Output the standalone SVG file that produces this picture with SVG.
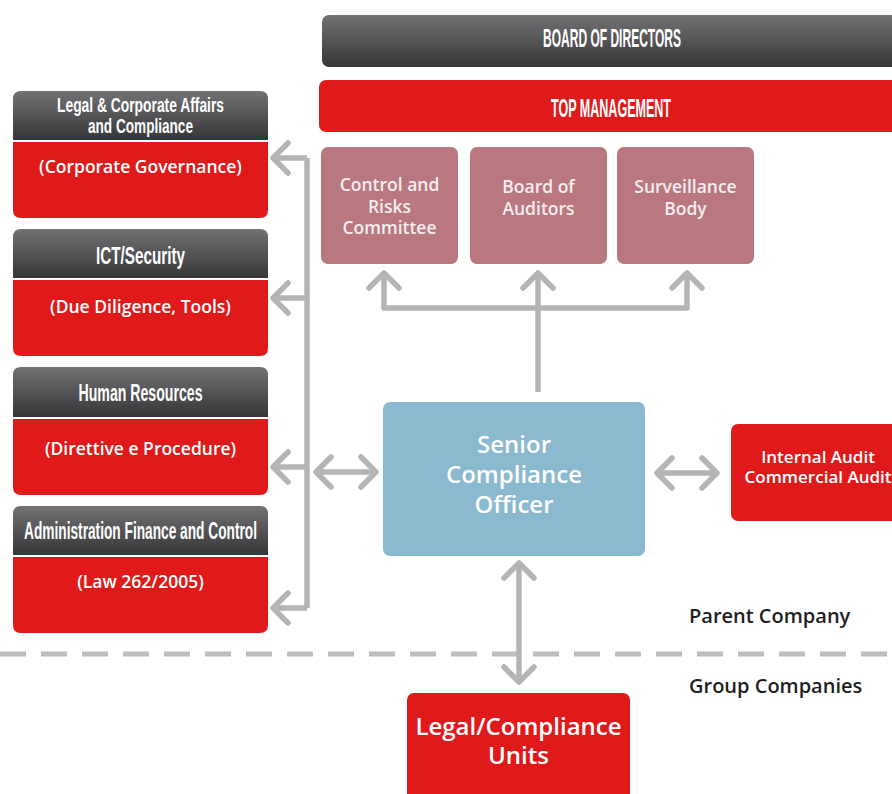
<svg xmlns="http://www.w3.org/2000/svg" width="892" height="794" viewBox="0 0 892 794">
<defs>
<linearGradient id="gh" x1="0" y1="0" x2="0" y2="1">
<stop offset="0" stop-color="#727274"/>
<stop offset="1" stop-color="#363638"/>
</linearGradient>
<marker id="chev" markerUnits="userSpaceOnUse" markerWidth="40" markerHeight="40" viewBox="-20 -20 40 40" refX="0" refY="0" orient="auto-start-reverse" overflow="visible">
<path d="M-15,-15 L0,0 L-15,15" fill="none" stroke="#b4b4b6" stroke-width="5.5" stroke-linecap="round" stroke-linejoin="round"/>
</marker>
</defs>
<style>
.red{fill:#e01a1a}
.pink{fill:#b97880}
.hdr{fill:url(#gh)}
.ht{font-family:"Liberation Sans",Arial,sans-serif;font-weight:bold;fill:#fff;text-anchor:middle}
.rt{font-family:"Open Sans","Noto Sans",sans-serif;font-weight:600;font-size:17.5px;fill:#fff;text-anchor:middle}
.at{font-family:"Open Sans","Noto Sans",sans-serif;font-weight:600;font-size:17px;fill:#fff;text-anchor:middle}
.pt{font-family:"Open Sans","Noto Sans",sans-serif;font-weight:600;font-size:17.5px;fill:#f6eef0;text-anchor:middle}
.bt{font-family:"Open Sans","Noto Sans",sans-serif;font-weight:600;font-size:24px;fill:#fff;text-anchor:middle}
.lbl{font-family:"Open Sans","Noto Sans",sans-serif;font-weight:600;font-size:20px;fill:#1e1e1e}
.arr{fill:none;stroke:#b4b4b6;stroke-width:5.5;stroke-linecap:butt;stroke-linejoin:round}
</style>

<g id="board">
<rect x="322" y="15" width="600" height="52" rx="7" class="hdr"/>
<text x="612" y="47" class="ht" font-size="26" textLength="138" lengthAdjust="spacingAndGlyphs">BOARD OF DIRECTORS</text>
</g>
<g id="topmgmt">
<rect x="319" y="80" width="600" height="52" rx="7" class="red"/>
<text x="611" y="117" class="ht" font-size="26" textLength="120" lengthAdjust="spacingAndGlyphs">TOP MANAGEMENT</text>
</g>

<g id="crc">
<rect x="321" y="147" width="137" height="117" rx="7" class="pink"/>
<text x="389.5" y="191" class="pt">Control and</text>
<text x="389.5" y="213" class="pt">Risks</text>
<text x="389.5" y="234" class="pt">Committee</text>
</g>
<g id="boa">
<rect x="470" y="147" width="137" height="117" rx="7" class="pink"/>
<text x="538.5" y="193" class="pt">Board of</text>
<text x="538.5" y="215" class="pt">Auditors</text>
</g>
<g id="sb">
<rect x="617" y="147" width="137" height="117" rx="7" class="pink"/>
<text x="685.5" y="193" class="pt">Surveillance</text>
<text x="685.5" y="215" class="pt">Body</text>
</g>

<g id="legal">
<path class="hdr" d="M13,140 V99 Q13,91 21,91 H260 Q268,91 268,99 V140 Z"/>
<path class="red" d="M13,142 H268 V210 Q268,218 260,218 H21 Q13,218 13,210 Z"/>
<text x="140.5" y="112" class="ht" font-size="20" textLength="167" lengthAdjust="spacingAndGlyphs">Legal &amp; Corporate Affairs</text>
<text x="140.5" y="133" class="ht" font-size="20" textLength="105" lengthAdjust="spacingAndGlyphs">and Compliance</text>
<text x="140.5" y="173" class="rt">(Corporate Governance)</text>
</g>
<g id="ict">
<path class="hdr" d="M13,278 V237 Q13,229 21,229 H260 Q268,229 268,237 V278 Z"/>
<path class="red" d="M13,280 H268 V348 Q268,356 260,356 H21 Q13,356 13,348 Z"/>
<text x="140.5" y="264" class="ht" font-size="23" textLength="89" lengthAdjust="spacingAndGlyphs">ICT/Security</text>
<text x="140.5" y="313" class="rt">(Due Diligence, Tools)</text>
</g>
<g id="hr">
<path class="hdr" d="M13,417 V375 Q13,367 21,367 H260 Q268,367 268,375 V417 Z"/>
<path class="red" d="M13,419 H268 V487 Q268,495 260,495 H21 Q13,495 13,487 Z"/>
<text x="140.5" y="401" class="ht" font-size="23" textLength="124" lengthAdjust="spacingAndGlyphs">Human Resources</text>
<text x="140.5" y="455" class="rt">(Direttive e Procedure)</text>
</g>
<g id="afc">
<path class="hdr" d="M13,555 V514 Q13,506 21,506 H260 Q268,506 268,514 V555 Z"/>
<path class="red" d="M13,557 H268 V625 Q268,633 260,633 H21 Q13,633 13,625 Z"/>
<text x="140.5" y="539" class="ht" font-size="23" textLength="233" lengthAdjust="spacingAndGlyphs">Administration Finance and Control</text>
<text x="140.5" y="588" class="rt">(Law 262/2005)</text>
</g>

<g id="sco">
<rect x="383" y="402" width="262" height="154" rx="7" fill="#8ab9d0"/>
<text x="514" y="453" class="bt">Senior</text>
<text x="514" y="483" class="bt">Compliance</text>
<text x="514" y="513" class="bt">Officer</text>
</g>

<g id="audit">
<rect x="731" y="424" width="200" height="97" rx="7" class="red"/>
<text x="818" y="463" class="at">Internal Audit</text>
<text x="818" y="483" class="at">Commercial Audit</text>
</g>

<g id="units">
<rect x="407" y="693" width="223" height="130" rx="7" class="red"/>
<text x="518.5" y="735" class="bt">Legal/Compliance</text>
<text x="518.5" y="764" class="bt">Units</text>
</g>

<g id="labels">
<text x="689" y="623" class="lbl">Parent Company</text>
<text x="689" y="693" class="lbl">Group Companies</text>
</g>

<line x1="0" y1="654" x2="892" y2="654" stroke="#bdbdbf" stroke-width="5" stroke-dasharray="26 15"/>

<g id="connectors">
<path class="arr" d="M307,158 V608"/>
<path class="arr" d="M307,158 H273" marker-end="url(#chev)"/>
<path class="arr" d="M307,298 H273" marker-end="url(#chev)"/>
<path class="arr" d="M307,467 H273" marker-end="url(#chev)"/>
<path class="arr" d="M307,608 H273" marker-end="url(#chev)"/>
<path class="arr" d="M316,472 H376" marker-start="url(#chev)" marker-end="url(#chev)"/>
<path class="arr" d="M657,473 H717" marker-start="url(#chev)" marker-end="url(#chev)"/>
<path class="arr" d="M519,563 V682" marker-start="url(#chev)" marker-end="url(#chev)"/>
<path class="arr" d="M538,392 V273" marker-end="url(#chev)"/>
<path class="arr" d="M384,273 V308 H687 V273" marker-start="url(#chev)" marker-end="url(#chev)"/>
</g>
</svg>
